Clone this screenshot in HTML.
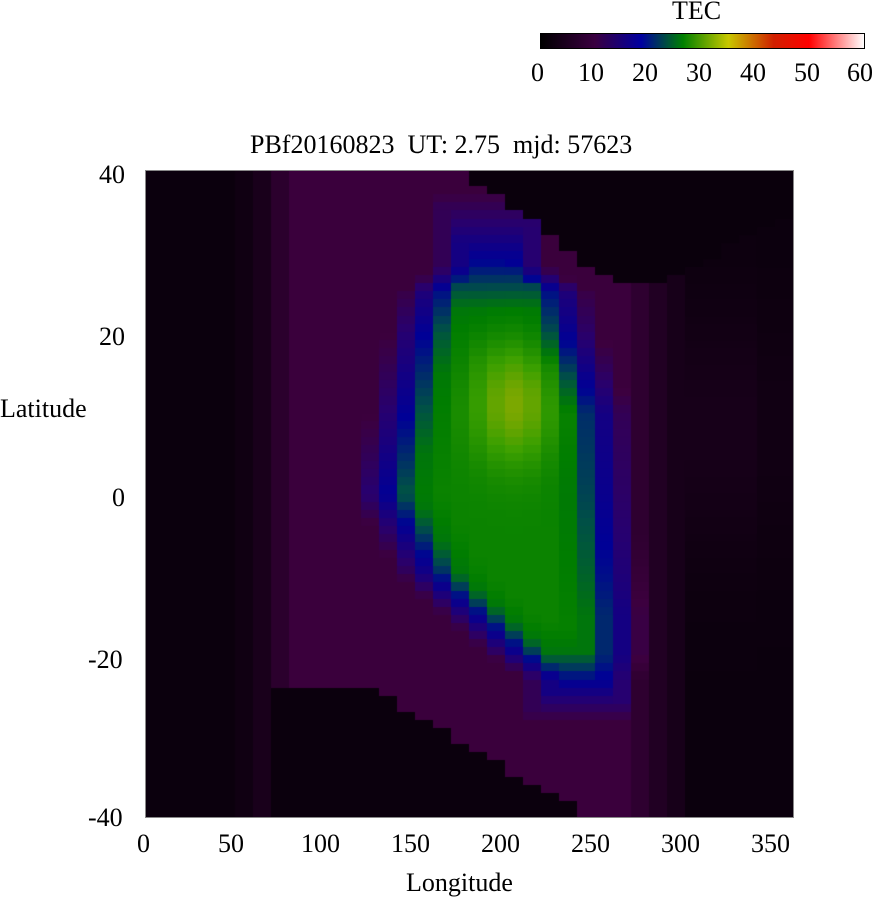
<!DOCTYPE html>
<html><head><style>
body{margin:0;background:#fff;width:878px;height:900px;overflow:hidden;position:relative;font-family:"Liberation Serif",serif;}
.t{position:absolute;font-size:26px;color:#000;white-space:nowrap;line-height:30px;}
#cv{position:absolute;left:145px;top:170px;}
</style></head><body>
<div class="t" style="left:672px;top:-4px">TEC</div>
<div style="position:absolute;left:540px;top:33px;width:323px;height:14px;border:1px solid #000;background:linear-gradient(to right,#000 0%,#3a0040 16.7%,#0000a0 31%,#008000 44%,#c8c800 58%,#d02000 72%,#ff0000 83%,#fff 100%)"></div>
<div class="t" style="left:531px;top:58px">0</div>
<div class="t" style="left:578px;top:58px">10</div>
<div class="t" style="left:632px;top:58px">20</div>
<div class="t" style="left:686px;top:58px">30</div>
<div class="t" style="left:740px;top:58px">40</div>
<div class="t" style="left:794px;top:58px">50</div>
<div class="t" style="left:847px;top:58px">60</div>
<div class="t" style="left:250px;top:130px">PBf20160823&nbsp; UT: 2.75&nbsp; mjd: 57623</div>
<canvas id="cv" width="648" height="647"></canvas>
<div style="position:absolute;left:145px;top:170px;width:647px;height:646px;border:1px solid #888"></div>
<div class="t" style="left:99px;top:160px">40</div>
<div class="t" style="left:99px;top:322px">20</div>
<div class="t" style="left:112px;top:483px">0</div>
<div class="t" style="left:88px;top:645px">-20</div>
<div class="t" style="left:88px;top:803px">-40</div>
<div class="t" style="left:0px;top:394px">Latitude</div>
<div class="t" style="left:137px;top:829px">0</div>
<div class="t" style="left:218px;top:829px">50</div>
<div class="t" style="left:301px;top:829px">100</div>
<div class="t" style="left:391px;top:829px">150</div>
<div class="t" style="left:481px;top:829px">200</div>
<div class="t" style="left:571px;top:829px">250</div>
<div class="t" style="left:661px;top:829px">300</div>
<div class="t" style="left:751px;top:829px">350</div>
<div class="t" style="left:406px;top:868px">Longitude</div>
<script>
var stops=[[0,[4,0,6]],[4,[26,0,28]],[9,[60,0,62]],[13,[40,0,110]],[18,[0,0,150]],[22,[0,80,70]],[25,[0,125,0]],[29,[60,160,0]],[33,[140,170,0]],[40,[200,60,0]],[50,[255,0,0]],[60,[255,255,255]]];
function col(v){if(v<=0)return stops[0][1];for(var i=1;i<stops.length;i++){if(v<=stops[i][0]){var a=stops[i-1],b=stops[i],t=(v-a[0])/(b[0]-a[0]);return [0,1,2].map(function(k){return Math.round(a[1][k]+(b[1][k]-a[1][k])*t);});}}return [255,255,255];}
function interp(p,x){if(x<=p[0][0])return p[0][1];for(var i=1;i<p.length;i++){if(x<=p[i][0]){var t=(x-p[i-1][0])/(p[i][0]-p[i-1][0]);return p[i-1][1]+t*(p[i][1]-p[i-1][1]);}}return p[p.length-1][1];}
var TB=[[170,40],[180,39],[190,37.5],[200,36],[210,34.5],[220,33],[230,31],[240,28.5],[250,27],[260,26],[270,25.5],[290,26],[300,27],[310,28],[320,30],[330,32],[360,34]];
function topB(lon){return lon<170?40:interp(TB,lon);}
function botB(lon){if(lon<70)return -40;if(lon<120)return -23.5;if(lon<250)return -23.5-(lon-120)*0.13;return -41;}
var ED=[[-23,235,250],[-20,215,255],[-15,190,255],[-10,165,252],[0,140,248],[10,150,245],[20,160,228],[25,168,222],[28,185,200]];
function edges(lat){var L=interp(ED.map(function(e){return [e[0],e[1]];}),lat),R=interp(ED.map(function(e){return [e[0],e[2]];}),lat);return [L,R];}
function tec(lon,lat){
 var base;
 if(lon<50)base=1.2;else if(lon<60)base=2.2;else if(lon<70)base=3.8;else if(lon<80)base=6.5;else if(lon<270)base=8.7;else if(lon<280)base=7;else if(lon<290)base=5;else if(lon<300)base=3.5;
 else base=1.3+2.2*Math.exp(-Math.pow((lat-8)/16,2))*(lon<345?1:0.5);
 if(lon>=170 && lat>topB(lon))base=1;
 if(lat<botB(lon))base=1.3;
 if(base<2)return base;
 var e=edges(lat);
 var inl=Math.min(lon-e[0],e[1]-lon);
 var inv=Math.min((lat+22)*4,(27-lat)*2.4);
 var ins=Math.min(inl,inv);
 var v=base;
 if(ins>-25){v=base+(24.5-base)*Math.max(0,Math.min(1,(ins+25)/35));}
 if(ins>10)v+=Math.min(ins-10,15)/15*1.2;
 v+=6.5*Math.exp(-Math.pow((lon-205)/22,2)-Math.pow((lat-11)/7,2));
 return v;
}
var c=document.getElementById('cv').getContext('2d');
for(var i=0;i<36;i++){for(var j=0;j<80;j++){var lon=i*10+5,lat=40-j-0.5;var k=col(tec(lon,lat));c.fillStyle='rgb('+k+')';c.fillRect(Math.round(i*18),Math.round(j*8.0875),19,9);}}
</script>
</body></html>
